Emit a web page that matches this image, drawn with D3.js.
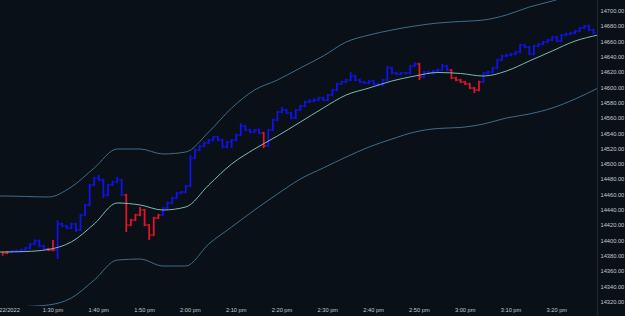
<!DOCTYPE html>
<html>
<head>
<meta charset="utf-8">
<script src="https://cdn.jsdelivr.net/npm/d3@7"></script>
<style>
  html, body { margin: 0; padding: 0; background: #0a1017; }
  svg { display: block; }
  .tick-label { font-family: "Liberation Sans", Arial, sans-serif; font-size: 5.7px; fill: #c4c8cc; }
</style>
</head>
<body>
<svg id="chart"></svg>
<script>
// 1-minute bars, first bar at 13:19
const bar_start = "13:19";
const closes = [
  14384.0, 14385.3, 14386.6, 14386.6, 14387.9, 14390.5, 14395.7, 14399.7, 14393.1, 14389.2,
  14387.9, 14387.9, 14421.9, 14419.2, 14416.6, 14421.9, 14414.0, 14433.6, 14446.7, 14472.8,
  14481.9, 14479.3, 14459.7, 14472.8, 14476.7, 14479.3, 14459.7, 14420.5, 14427.1, 14433.6,
  14440.1, 14420.5, 14407.5, 14429.7, 14433.6, 14442.7, 14449.3, 14455.8, 14462.3, 14463.6,
  14471.5, 14508.0, 14518.5, 14523.7, 14527.6, 14531.5, 14535.5, 14531.5, 14522.4, 14528.9,
  14531.5, 14538.1, 14549.8, 14544.6, 14542.0, 14544.6, 14540.7, 14524.0, 14544.6, 14557.7,
  14568.1, 14570.7, 14566.8, 14560.3, 14570.7, 14575.9, 14581.2, 14582.5, 14583.8, 14586.4,
  14583.8, 14590.3, 14596.8, 14604.7, 14607.3, 14609.9, 14615.1, 14609.9, 14607.3, 14606.0,
  14608.6, 14604.7, 14603.4, 14609.9, 14625.6, 14619.0, 14617.7, 14619.0, 14619.0, 14628.2,
  14630.8, 14613.8, 14620.3, 14619.0, 14621.6, 14622.9, 14628.2, 14622.9, 14612.5, 14609.9,
  14607.3, 14604.7, 14599.4, 14596.8, 14607.3, 14619.0, 14620.3, 14625.6, 14636.0, 14641.2,
  14642.5, 14643.8, 14646.5, 14655.6, 14653.0, 14643.8, 14654.3, 14656.9, 14659.5, 14662.1,
  14666.0, 14660.8, 14668.6, 14670.0, 14671.3, 14673.9, 14677.8, 14680.4, 14675.2, 14671.3
];
const highs = [
  14386.0, 14386.8, 14388.1, 14388.6, 14389.4, 14392.0, 14397.2, 14401.8, 14401.2, 14394.6,
  14390.7, 14401.0, 14426.5, 14423.4, 14420.7, 14423.4, 14423.4, 14435.1, 14448.2, 14474.3,
  14483.4, 14485.8, 14480.8, 14474.3, 14478.2, 14483.2, 14480.8, 14461.2, 14428.6, 14435.1,
  14444.1, 14441.6, 14422.0, 14431.2, 14435.1, 14444.2, 14450.8, 14457.3, 14463.8, 14465.1,
  14473.0, 14512.0, 14520.0, 14525.2, 14529.1, 14533.0, 14537.0, 14537.0, 14533.0, 14530.4,
  14533.0, 14539.6, 14553.5, 14551.3, 14546.1, 14546.1, 14546.1, 14542.2, 14546.1, 14559.2,
  14569.6, 14574.6, 14572.2, 14568.3, 14572.2, 14577.4, 14582.7, 14585.0, 14586.0, 14588.0,
  14588.0, 14591.8, 14598.3, 14606.2, 14608.8, 14611.4, 14620.3, 14616.6, 14611.4, 14608.8,
  14610.1, 14610.1, 14606.2, 14611.4, 14628.2, 14627.1, 14620.5, 14620.5, 14620.5, 14629.7,
  14633.0, 14632.3, 14621.8, 14621.8, 14623.1, 14624.4, 14630.8, 14629.7, 14624.4, 14614.0,
  14611.4, 14608.8, 14606.2, 14600.9, 14608.8, 14620.5, 14621.8, 14627.1, 14637.5, 14642.7,
  14644.0, 14645.3, 14648.0, 14657.1, 14657.1, 14654.5, 14655.8, 14658.4, 14661.0, 14663.6,
  14667.5, 14667.5, 14670.1, 14671.5, 14672.8, 14675.4, 14679.3, 14681.9, 14681.9, 14676.7
];
const lows = [
  14380.5, 14382.5, 14383.8, 14384.6, 14385.1, 14386.4, 14389.0, 14394.2, 14391.6, 14387.7,
  14386.4, 14386.4, 14376.1, 14417.7, 14415.1, 14415.1, 14411.4, 14412.5, 14432.1, 14445.2,
  14471.3, 14477.8, 14455.8, 14458.2, 14471.3, 14475.2, 14458.2, 14411.4, 14419.0, 14425.6,
  14432.1, 14419.0, 14401.0, 14406.0, 14428.2, 14432.1, 14441.2, 14447.8, 14454.3, 14460.8,
  14462.1, 14470.0, 14506.5, 14517.0, 14522.2, 14526.1, 14530.0, 14530.0, 14520.9, 14520.9,
  14521.1, 14530.0, 14536.6, 14543.1, 14540.5, 14540.5, 14539.2, 14521.0, 14522.5, 14543.1,
  14556.2, 14566.6, 14565.3, 14558.8, 14558.8, 14569.2, 14574.4, 14579.7, 14581.0, 14582.3,
  14582.3, 14582.3, 14588.8, 14595.3, 14603.2, 14605.8, 14608.4, 14608.4, 14605.8, 14604.5,
  14604.5, 14603.2, 14601.9, 14601.9, 14608.4, 14617.5, 14616.2, 14616.2, 14617.5, 14617.5,
  14626.7, 14609.9, 14612.3, 14617.5, 14617.5, 14620.1, 14621.4, 14621.4, 14611.0, 14608.4,
  14605.8, 14603.2, 14597.9, 14592.9, 14595.3, 14605.8, 14616.4, 14618.8, 14624.1, 14634.5,
  14639.7, 14641.0, 14642.3, 14645.0, 14651.5, 14642.3, 14642.3, 14652.8, 14655.4, 14658.0,
  14660.6, 14659.3, 14659.3, 14667.1, 14668.5, 14669.8, 14672.4, 14676.3, 14673.7, 14669.8
];

// band samples every 5 minutes, first at 13:14
const band_start = "13:14";
const band_mid = [
  14384.6, 14385.3, 14385.9, 14388.6, 14398.4, 14421.9, 14449.3, 14446.7, 14440.1, 14444.1,
  14472.8, 14500.2, 14519.8, 14536.8, 14555.0, 14573.3, 14590.3, 14599.4, 14608.6, 14615.1,
  14619.7, 14618.4, 14615.1, 14621.6, 14634.7, 14647.8, 14660.8, 14668.6
];
const band_upper = [
  14458.4, 14458.4, 14457.8, 14457.1, 14470.2, 14495.0, 14519.8, 14519.8, 14513.3, 14515.9,
  14542.0, 14573.3, 14596.8, 14609.9, 14625.6, 14641.2, 14659.5, 14668.6, 14675.2, 14680.4,
  14684.3, 14686.3, 14688.2, 14694.8, 14705.2, 14713.0, 14722.2, 14730.0
];
const band_lower = [
  14310.9, 14312.2, 14314.1, 14316.1, 14325.2, 14348.7, 14374.8, 14376.1, 14367.0, 14367.0,
  14395.7, 14417.9, 14440.1, 14461.0, 14480.6, 14495.0, 14509.3, 14522.4, 14532.8, 14542.0,
  14546.6, 14547.9, 14552.4, 14560.3, 14565.5, 14573.3, 14585.1, 14599.4
];

const x_ticks = ["13:20", "13:30", "13:40", "13:50", "14:00", "14:10", "14:20",
                 "14:30", "14:40", "14:50", "15:00", "15:10", "15:20"];
const y_ticks = [14320, 14340, 14360, 14380, 14400, 14420, 14440, 14460, 14480, 14500,
                 14520, 14540, 14560, 14580, 14600, 14620, 14640, 14660, 14680, 14700];

const width = 625, height = 316;
const plot_right = 597, plot_bottom = 306;

function at(hm) {
  let p = hm.split(':');
  return new Date(2022, 2, 22, +p[0], +p[1]);
}

let svg = d3.select('#chart').attr('width', width).attr('height', height);

svg.append('rect')
  .attr('width', width).attr('height', height)
  .style('fill', '#0a1017');

let x = d3.scaleTime().domain([at("13:20"), at("15:20")]).range([7.2, 556.8]);
let y = d3.scaleLinear().domain([14320, 14700]).range([302, 11]);

svg.append('clipPath').attr('id', 'plot_clip')
  .append('rect').attr('x', 0).attr('y', 0)
  .attr('width', plot_right).attr('height', plot_bottom);

let plot = svg.append('g').attr('clip-path', 'url(#plot_clip)');

/*
 * Bands.
 */
let band_times = band_mid.map((d, i) => d3.timeMinute.offset(at(band_start), i * 5));

function band_line(values, color, w) {
  let line = d3.line()
    .x((d, i) => x(band_times[i]))
    .y(d => y(d))
    .curve(d3.curveMonotoneX);
  plot.append('path')
    .datum(values)
    .attr('d', line)
    .style('fill', 'none')
    .style('stroke', color)
    .style('stroke-width', w);
}

band_line(band_upper, '#3d6d8e', 1);
band_line(band_lower, '#3d6d8e', 1);

/*
 * Price bars: blue above the middle line, red below.
 */
function mid_at(t) {
  let i = d3.bisectRight(band_times, t) - 1;
  i = Math.max(0, Math.min(band_times.length - 2, i));
  let f = (t - band_times[i]) / (band_times[i + 1] - band_times[i]);
  return band_mid[i] + f * (band_mid[i + 1] - band_mid[i]);
}

let half = 2.3;
for (let k = 0; k < closes.length; k++) {
  let t = d3.timeMinute.offset(at(bar_start), k);
  let bx = x(t);
  let color = closes[k] >= mid_at(t) ? '#1212ea' : '#e3142c';
  let bar = plot.append('g').style('stroke', color).style('fill', 'none');

  bar.append('line')
    .attr('x1', bx).attr('x2', bx)
    .attr('y1', y(highs[k])).attr('y2', y(lows[k]))
    .style('stroke-width', 1.8);
  if (k > 0) {
    bar.append('line')
      .attr('x1', bx - half).attr('x2', bx)
      .attr('y1', y(closes[k - 1])).attr('y2', y(closes[k - 1]))
      .style('stroke-width', 1.1);
  }
  bar.append('line')
    .attr('x1', bx).attr('x2', bx + half)
    .attr('y1', y(closes[k])).attr('y2', y(closes[k]))
    .style('stroke-width', 1.1);
}

band_line(band_mid, '#7fb8b4', 1);

/*
 * Axes.
 */
svg.append('line')
  .attr('x1', plot_right + 0.5).attr('x2', plot_right + 0.5)
  .attr('y1', 0).attr('y2', height)
  .style('stroke', '#232931');

let y_axis = svg.append('g');
y_ticks.forEach(v => {
  y_axis.append('text')
    .attr('class', 'tick-label')
    .attr('x', 600.5)
    .attr('y', y(v))
    .attr('dy', '0.35em')
    .text(d3.format('.2f')(v));
});

let time_fmt = d3.timeFormat('%-I:%M %p');
let x_axis = svg.append('g');
x_ticks.forEach((s, i) => {
  let t = at(s);
  // the first tick carries the date, cut at the left edge as in the original
  let label = (i == 0) ? '3/22/2022' : time_fmt(t).toLowerCase();
  x_axis.append('text')
    .attr('class', 'tick-label')
    .attr('x', x(t))
    .attr('y', 310)
    .attr('dy', '0.35em')
    .attr('text-anchor', 'middle')
    .text(label);
});
</script>
</body>
</html>
